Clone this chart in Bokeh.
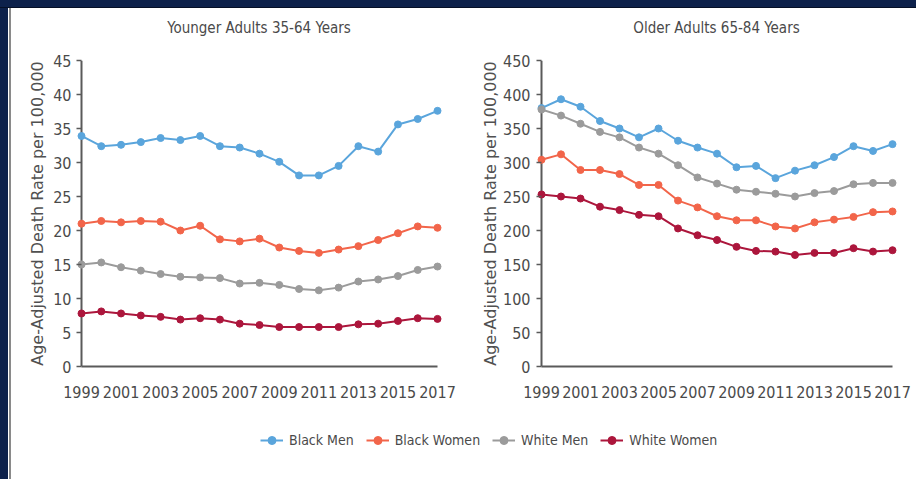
from bokeh.plotting import figure
from bokeh.layouts import column, row
from bokeh.models import Range1d, Legend, LegendItem, FixedTicker, Span, Div
from bokeh.embed import file_html
from bokeh.resources import INLINE

years = list(range(1999, 2018))
year_ticks = list(range(1999, 2018, 2))
series_names = ["Black Men", "Black Women", "White Men", "White Women"]
series_colors = ["#5aa5dc", "#f2654a", "#9b9b9b", "#ac163c"]

young_title = "Younger Adults 35-64 Years"
young_ticks = list(range(0, 50, 5))
young_black_men = [33.9, 32.4, 32.6, 33.0, 33.6, 33.3, 33.9, 32.4, 32.2, 31.3, 30.1, 28.1, 28.1, 29.5, 32.4, 31.6, 35.6, 36.4, 37.6]
young_black_women = [21.0, 21.4, 21.2, 21.4, 21.3, 20.0, 20.7, 18.7, 18.4, 18.8, 17.5, 17.0, 16.7, 17.2, 17.7, 18.6, 19.6, 20.6, 20.4]
young_white_men = [15.0, 15.3, 14.6, 14.1, 13.6, 13.2, 13.1, 13.0, 12.2, 12.3, 12.0, 11.4, 11.2, 11.6, 12.5, 12.8, 13.3, 14.2, 14.7]
young_white_women = [7.8, 8.1, 7.8, 7.5, 7.3, 6.9, 7.1, 6.9, 6.3, 6.1, 5.8, 5.8, 5.8, 5.8, 6.2, 6.3, 6.7, 7.1, 7.0]

older_title = "Older Adults 65-84 Years"
older_ticks = list(range(0, 500, 50))
older_black_men = [380, 393, 382, 361, 350, 337, 350, 332, 322, 313, 293, 295, 277, 288, 296, 308, 324, 317, 327]
older_black_women = [304, 312, 289, 289, 283, 267, 267, 244, 234, 221, 215, 215, 206, 203, 212, 216, 220, 227, 228]
older_white_men = [378, 369, 357, 345, 337, 322, 313, 296, 278, 269, 260, 257, 254, 250, 255, 258, 268, 270, 270]
older_white_women = [253, 250, 247, 235, 230, 223, 221, 203, 193, 186, 176, 170, 169, 164, 167, 167, 174, 169, 171]

y_label = "Age-Adjusted Death Rate per 100,000"

NARROW = "DejaVu Sans Condensed, Roboto, sans-serif"
TEXT = "#4a4a4a"
AXIS = "#5a5a5a"
NAVY = "#0d214b"
FRAME_H = 306
TITLE_H = 40


def make_panel(series, ticks, border_left, frame_w, width, label_standoff, axis_label_standoff):
    pad_px = 5
    px_per_year = (frame_w - 2 * pad_px) / (years[-1] - years[0])
    pad = pad_px / px_per_year
    p = figure(frame_width=frame_w, frame_height=FRAME_H,
               min_border_left=border_left, min_border_right=width - border_left - frame_w,
               min_border_top=52 - TITLE_H, min_border_bottom=44,
               x_range=Range1d(years[0] - pad, years[-1] + pad),
               y_range=Range1d(ticks[0], ticks[-1]),
               output_backend="svg", toolbar_location=None)
    p.grid.visible = False
    p.outline_line_color = None
    p.background_fill_color = "white"
    p.border_fill_color = "white"

    xa = p.xaxis[0]
    xa.ticker = FixedTicker(ticks=year_ticks)
    xa.bounds = (years[0], years[-1])
    xa.axis_line_color = AXIS
    xa.axis_line_width = 2
    xa.major_tick_line_color = None
    xa.minor_tick_line_color = None
    xa.major_label_text_font = NARROW
    xa.major_label_text_font_size = "16px"
    xa.major_label_text_color = TEXT
    xa.major_label_standoff = 13

    ya = p.yaxis[0]
    ya.ticker = FixedTicker(ticks=ticks)
    ya.axis_line_color = None
    ya.major_tick_line_color = AXIS
    ya.major_tick_line_width = 1.5
    ya.major_tick_out = 0
    ya.major_tick_in = pad_px
    ya.minor_tick_line_color = None
    ya.major_label_text_font = NARROW
    ya.major_label_text_font_size = "16px"
    ya.major_label_text_color = TEXT
    ya.major_label_standoff = label_standoff
    ya.axis_label = y_label
    ya.axis_label_text_font = "DejaVu Sans"
    ya.axis_label_text_font_size = "16px"
    ya.axis_label_text_font_style = "normal"
    ya.axis_label_text_color = "#505050"
    ya.axis_label_standoff = axis_label_standoff

    p.add_layout(Span(location=years[0], dimension="height", line_color=AXIS,
                      line_width=2, level="underlay"))

    for vals, color in zip(series, series_colors):
        p.line(years, vals, line_color=color, line_width=2)
        p.scatter(years, vals, marker="circle", size=7, fill_color=color, line_color=color)
    return p


def title_div(text, width):
    return Div(text=text, width=width, height=TITLE_H, margin=0,
               styles={"font-family": NARROW, "font-size": "15px", "color": TEXT,
                       "text-align": "center", "line-height": "40px", "white-space": "nowrap"})


p1 = make_panel([young_black_men, young_black_women, young_white_men, young_white_women],
                young_ticks, 65, 366, 451, 5, 3)
p2 = make_panel([older_black_men, older_black_women, older_white_men, older_white_women],
                older_ticks, 74, 361, 454, 6, 0)

titles = row(Div(width=45, height=TITLE_H, margin=0), title_div(young_title, 406),
             Div(width=55, height=TITLE_H, margin=0), title_div(older_title, 399))

leg = figure(width=905, height=69, x_range=Range1d(0, 1), y_range=Range1d(0, 1),
             x_axis_location=None, y_axis_location=None, min_border=0,
             output_backend="svg", toolbar_location=None)
leg.grid.visible = False
leg.outline_line_color = None
items = []
all_series = [young_black_men, young_black_women, young_white_men, young_white_women]
for name, vals, color in zip(series_names, all_series, series_colors):
    r1 = leg.line(years, vals, line_color=color, line_width=2)
    r2 = leg.scatter(years, vals, marker="circle", size=7, fill_color=color, line_color=color)
    items.append(LegendItem(label=name, renderers=[r1, r2]))
legend = Legend(items=items, orientation="horizontal", location=(249, 29),
                glyph_width=23, glyph_height=20, label_height=20, label_standoff=6,
                spacing=12, padding=0, margin=0,
                label_text_font=NARROW, label_text_font_size="14px", label_text_color=TEXT,
                background_fill_alpha=0, border_line_color=None)
leg.add_layout(legend, "center")

top_band = Div(width=916, height=8, margin=0,
               styles={"background-color": NAVY, "border-bottom": "1px solid #050f26", "box-sizing": "border-box"})
left_band = Div(width=8, height=471, margin=0, styles={"background-color": NAVY})
white_gap = Div(width=1, height=471, margin=0, styles={"background-color": "white"})
gray_line = Div(width=2, height=471, margin=0, styles={"background-color": "#8a8a8a"})

content = column(titles, row(p1, p2), leg)
layout = column(top_band, row(left_band, white_gap, gray_line, content))
open("out.html", "w").write(file_html(layout, INLINE))
